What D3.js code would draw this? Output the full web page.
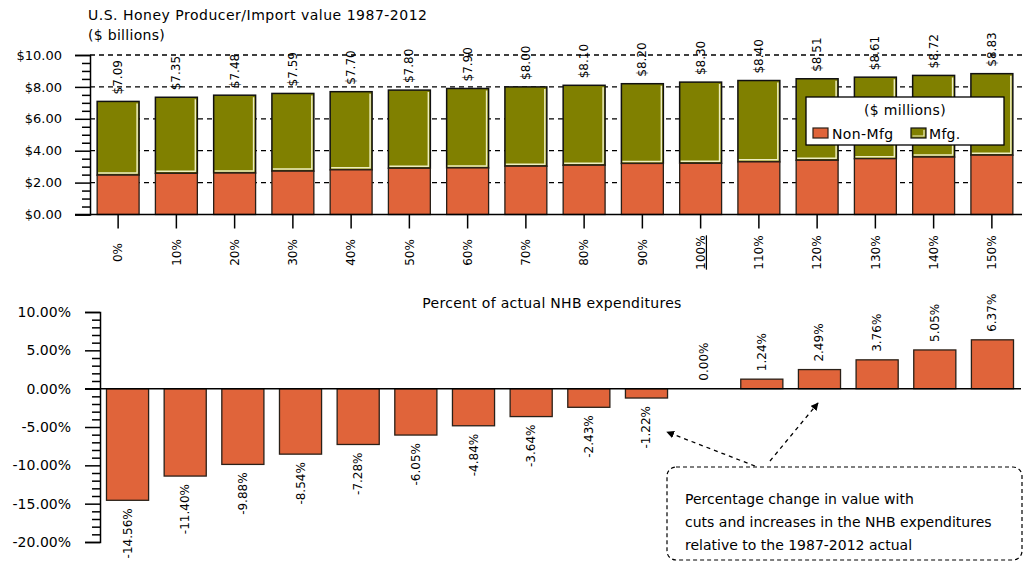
<!DOCTYPE html>
<html>
<head>
<meta charset="utf-8">
<script src="https://cdn.jsdelivr.net/npm/d3@7/dist/d3.min.js"></script>
<style>
  html, body { margin: 0; padding: 0; background: #fff; }
  svg { display: block; font-family: "DejaVu Sans", Verdana, sans-serif; }
</style>
</head>
<body>
<svg id="chart" width="1026" height="562"></svg>
<script>
// Scenarios: NHB expenditure level relative to the 1987-2012 actual
const categories = ["0%","10%","20%","30%","40%","50%","60%","70%","80%","90%","100%","110%","120%","130%","140%","150%"];
// Total producer/import value, $ billions
const totalValue = [7.09,7.35,7.48,7.59,7.70,7.80,7.90,8.00,8.10,8.20,8.30,8.40,8.51,8.61,8.72,8.83];
// Non-manufacturing share of the total, $ billions
const nonMfgValue = [2.47,2.58,2.60,2.72,2.80,2.90,2.92,3.03,3.09,3.20,3.21,3.30,3.40,3.50,3.60,3.72];
// Percent change from the actual expenditure level
const pctChange = [-14.56,-11.40,-9.88,-8.54,-7.28,-6.05,-4.84,-3.64,-2.43,-1.22,0.00,1.24,2.49,3.76,5.05,6.37];
const valueTicks = [0,2,4,6,8,10];
const pctTicks = [-20,-15,-10,-5,0,5,10];

const ORANGE = "#e0643a";
const OLIVE = "#808000";
const CREAM = "#eeeec0";
const EDGE = "#2a2018";

const svg = d3.select("#chart");

// ---------- Top panel: stacked value bars ----------
const xTop = d3.scaleBand().domain(categories).range([89, 1021]).paddingInner(0.28).paddingOuter(0.14);
const yTop = d3.scaleLinear().domain([0, 10]).range([214.5, 55]);

svg.append("text").attr("x", 88).attr("y", 20).attr("font-size", 14).attr("letter-spacing", 0.5)
  .text("U.S. Honey Producer/Import value 1987-2012");
svg.append("text").attr("x", 88).attr("y", 40).attr("font-size", 14).attr("letter-spacing", 0.3).text("($ billions)");

// dashed gridlines
svg.append("g").selectAll("line").data(valueTicks.filter(d => d > 0)).join("line")
  .attr("x1", 90).attr("x2", 1022)
  .attr("y1", d => yTop(d)).attr("y2", d => yTop(d))
  .attr("stroke", "#000").attr("stroke-width", 1.3).attr("stroke-dasharray", "5,4");

const topBars = svg.append("g");
categories.forEach((c, i) => {
  const x0 = xTop(c), w = xTop.bandwidth();
  const yT = yTop(totalValue[i]), yN = yTop(nonMfgValue[i]), y0 = yTop(0);
  // manufacturing segment (upper)
  topBars.append("rect").attr("x", x0).attr("y", yT).attr("width", w).attr("height", yN - yT)
    .attr("fill", OLIVE).attr("stroke", "#111").attr("stroke-width", 1.5);
  topBars.append("path")
    .attr("d", `M${x0 + w - 2},${yT + 2}L${x0 + w - 2},${yN - 2}L${x0 + 1},${yN - 2}`)
    .attr("fill", "none").attr("stroke", CREAM).attr("stroke-width", 1.5);
  // non-manufacturing segment (lower)
  topBars.append("rect").attr("x", x0).attr("y", yN).attr("width", w).attr("height", y0 - yN)
    .attr("fill", ORANGE).attr("stroke", EDGE).attr("stroke-width", 1.3);
});

// total value labels
svg.append("g").selectAll("text").data(categories).join("text")
  .attr("transform", (c, i) => `translate(${xTop(c) + xTop.bandwidth() / 2 + 4},${yTop(totalValue[i]) - 7}) rotate(-90)`)
  .attr("font-size", 12).attr("text-anchor", "start")
  .text((c, i) => "$" + totalValue[i].toFixed(2));

// y axis: major and minor ticks
const yAxisTop = svg.append("g").attr("transform", "translate(90,0)")
  .call(d3.axisLeft(yTop).tickValues(valueTicks).tickSize(15).tickPadding(13).tickFormat(d => "$" + d.toFixed(2)));
svg.append("g").attr("transform", "translate(90,0)")
  .call(d3.axisLeft(yTop).tickValues(d3.range(0, 10.01, 0.5).filter(d => d % 2 !== 0)).tickSize(8).tickFormat(""))
  .call(g => g.select(".domain").remove());
yAxisTop.selectAll("text").attr("font-size", 13).attr("font-family", "DejaVu Sans");
yAxisTop.select(".domain").attr("stroke-width", 1.5);

// x axis with rotated scenario labels
const xAxisTop = svg.append("g").attr("transform", `translate(0,${yTop(0)})`)
  .call(d3.axisBottom(xTop).tickSize(14).tickSizeOuter(0));
xAxisTop.select(".domain").remove();
xAxisTop.selectAll("text")
  .attr("font-size", 12).attr("font-family", "DejaVu Sans")
  .attr("text-anchor", "middle").attr("dy", "0.35em")
  .attr("transform", "translate(0,38) rotate(-90)").attr("y", 0).attr("x", 0)
  .attr("text-decoration", d => d === "100%" ? "underline" : null);
svg.append("line").attr("x1", 75).attr("x2", 1022).attr("y1", yTop(0)).attr("y2", yTop(0))
  .attr("stroke", "#000").attr("stroke-width", 1.5);

// legend
const lg = svg.append("g");
lg.append("rect").attr("x", 806).attr("y", 97).attr("width", 198).attr("height", 48)
  .attr("fill", "#fff").attr("stroke", "#000").attr("stroke-width", 1.3);
lg.append("text").attr("x", 905).attr("y", 115).attr("text-anchor", "middle").attr("font-size", 14)
  .attr("letter-spacing", 0.3).text("($ millions)");
lg.append("rect").attr("x", 813).attr("y", 128).attr("width", 15).attr("height", 10)
  .attr("fill", ORANGE).attr("stroke", EDGE).attr("stroke-width", 1.2);
lg.append("text").attr("x", 832).attr("y", 139).attr("font-size", 14).attr("letter-spacing", 0.4).text("Non-Mfg");
lg.append("rect").attr("x", 911).attr("y", 128).attr("width", 15).attr("height", 10)
  .attr("fill", OLIVE).attr("stroke", "#111").attr("stroke-width", 1.2);
lg.append("path").attr("d", "M924,130L924,136L912.5,136").attr("fill", "none").attr("stroke", CREAM).attr("stroke-width", 1.2);
lg.append("text").attr("x", 929).attr("y", 139).attr("font-size", 14).attr("letter-spacing", 0.3).text("Mfg.");

// ---------- Bottom panel: percent change ----------
const xBot = d3.scaleBand().domain(categories).range([99, 1021]).paddingInner(0.27).paddingOuter(0.13);
const yBot = d3.scaleLinear().domain([-20, 10]).range([542, 312]);

svg.append("text").attr("x", 552).attr("y", 308).attr("text-anchor", "middle").attr("font-size", 14)
  .attr("letter-spacing", 0.3).text("Percent of actual NHB expenditures");

svg.append("g").selectAll("rect").data(categories).join("rect")
  .attr("x", c => xBot(c))
  .attr("y", (c, i) => yBot(Math.max(0, pctChange[i])))
  .attr("width", xBot.bandwidth())
  .attr("height", (c, i) => Math.abs(yBot(pctChange[i]) - yBot(0)))
  .attr("fill", ORANGE).attr("stroke", EDGE).attr("stroke-width", 1.3);

svg.append("g").selectAll("text").data(categories).join("text")
  .attr("transform", (c, i) => {
    const v = pctChange[i];
    const y = v < 0 ? yBot(v) + 8 : yBot(v) - 8;
    return `translate(${xBot(c) + xBot.bandwidth() / 2 + 4},${y}) rotate(-90)`;
  })
  .attr("text-anchor", (c, i) => pctChange[i] < 0 ? "end" : "start")
  .attr("font-size", 12)
  .text((c, i) => pctChange[i].toFixed(2) + "%");

const yAxisBot = svg.append("g").attr("transform", "translate(100,0)")
  .call(d3.axisLeft(yBot).tickValues(pctTicks).tickSize(15).tickPadding(14).tickFormat(d => d.toFixed(2) + "%"));
svg.append("g").attr("transform", "translate(100,0)")
  .call(d3.axisLeft(yBot).tickValues(d3.range(-20, 10.01, 1).filter(d => d % 5 !== 0)).tickSize(8).tickFormat(""))
  .call(g => g.select(".domain").remove());
yAxisBot.selectAll("text").attr("font-size", 14).attr("font-family", "DejaVu Sans");
yAxisBot.select(".domain").attr("stroke-width", 1.5);
svg.selectAll(".tick line").attr("stroke-width", 1.5);
svg.append("line").attr("x1", 85).attr("x2", 1021).attr("y1", yBot(0)).attr("y2", yBot(0))
  .attr("stroke", "#000").attr("stroke-width", 1.5);

// ---------- Annotation ----------
const defs = svg.append("defs");
defs.append("marker").attr("id", "arrow").attr("viewBox", "0 0 10 10").attr("refX", 9).attr("refY", 5)
  .attr("markerWidth", 6).attr("markerHeight", 6).attr("orient", "auto")
  .append("path").attr("d", "M0,0L10,5L0,10z").attr("fill", "#000");

svg.append("path").attr("d", "M755,466L667,432").attr("stroke", "#000").attr("stroke-width", 1.3)
  .attr("stroke-dasharray", "4,4").attr("fill", "none").attr("marker-end", "url(#arrow)");
svg.append("path").attr("d", "M770,461L818,403").attr("stroke", "#000").attr("stroke-width", 1.3)
  .attr("stroke-dasharray", "4,4").attr("fill", "none").attr("marker-end", "url(#arrow)");

svg.append("rect").attr("x", 667).attr("y", 467).attr("width", 355).attr("height", 93).attr("rx", 9)
  .attr("fill", "none").attr("stroke", "#000").attr("stroke-width", 1.2).attr("stroke-dasharray", "4,3");
const note = ["Percentage change in value with", "cuts and increases in the NHB expenditures", "relative to the 1987-2012 actual"];
svg.append("g").selectAll("text").data(note).join("text")
  .attr("x", 685).attr("y", (d, i) => 504 + i * 23).attr("font-size", 14).text(d => d);
</script>
</body>
</html>
